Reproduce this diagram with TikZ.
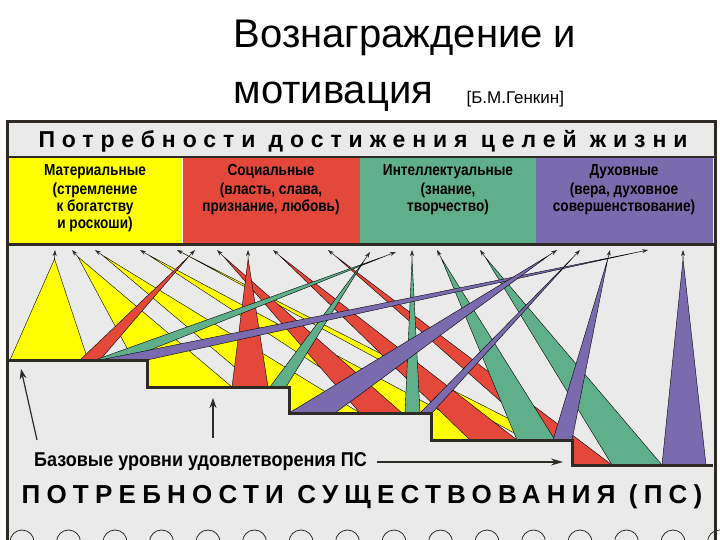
\documentclass[tikz,border=0pt]{standalone}
\usepackage{fontspec}
\setmainfont{Liberation Sans}
\usetikzlibrary{arrows.meta,calc}
\definecolor{bg}{HTML}{EAEAEA}
\definecolor{fr}{HTML}{2E2A26}
\definecolor{yel}{HTML}{FFFF00}
\definecolor{rd}{HTML}{E4483A}
\definecolor{gr}{HTML}{5FAF8A}
\definecolor{pu}{HTML}{7A6BAE}
\tikzset{
 wedgest/.style={draw=black,line width=0.4pt},
 tipst/.style={draw=fr,line width=0.6pt,-{Stealth[length=6pt,width=4pt]}},
 lbl/.style={font=\bfseries\fontsize{16}{17}\selectfont\addfontfeatures{FakeStretch=0.85},align=center,text=black,inner sep=0pt},
}
\newcommand{\wdg}[6]{%
 \fill[#1,wedgest] (#2,#4)--(#3,#4)--($(#5,#6)!9pt!({(#2+#3)/2},#4)$)--cycle;
 \draw[tipst] ($(#5,#6)!9pt!({(#2+#3)/2},#4)$)--(#5,#6);}
\begin{document}
\begin{tikzpicture}[x=1pt,y=-1pt]
\useasboundingbox (0,0) rectangle (720,540);
\fill[white] (0,0) rectangle (720,540);
% title
\node[font=\fontsize{40}{40}\selectfont,anchor=center] (t1) at (405,38) {Вознаграждение и};
\node[font=\fontsize{40}{40}\selectfont,anchor=base west] (t2) at (230,104) {мотивация};
\node[font=\fontsize{17}{17}\selectfont,anchor=base west] (t3) at (463,104) {[Б.М.Генкин]};
% frame
\fill[bg] (7,122) rectangle (715,545);
\node[font=\bfseries\fontsize{23}{23}\selectfont\addfontfeatures{LetterSpace=30},anchor=center] (hd) at (363,141) {Потребности достижения целей жизни};
\fill[yel] (8,158) rectangle (182,243);
\fill[rd] (182,158) rectangle (360,243);
\fill[gr] (360,158) rectangle (536,243);
\fill[pu] (536,158) rectangle (713,243);
\draw[white,line width=1pt] (182,158)--(182,243);
\node[lbl,anchor=north] (b1) at (95,164) {Материальные\\[2pt](стремление\\к богатству\\и роскоши)};
\node[lbl,anchor=north] (b2) at (271,164) {Социальные\\[2pt](власть, слава,\\признание, любовь)};
\node[lbl,anchor=north] (b3) at (448,164) {Интеллектуальные\\[2pt](знание,\\творчество)};
\node[lbl,anchor=north] (b4) at (624,164) {Духовные\\[2pt](вера, духовное\\совершенствование)};
\draw[fr,line width=2.5pt] (7,157)--(715,157);
\draw[fr,line width=3pt] (7,244)--(715,244);
% wedges
\wdg{yel}{10}{88}{360}{55}{250}
\wdg{yel}{148}{232}{387}{72}{250}
\wdg{yel}{289}{360}{413}{95}{250}
\wdg{yel}{431}{495}{440}{140}{250}
\wdg{yel}{573}{600}{465}{177}{250}
\wdg{rd}{80}{100}{360}{195}{250}
\wdg{rd}{360}{402}{413}{217}{250}
\wdg{rd}{470}{517}{440}{273}{250}
\wdg{rd}{573}{612}{465}{328}{250}
\wdg{rd}{232}{268}{387}{248}{250}
\wdg{gr}{95}{125}{360}{396}{252}
\wdg{gr}{270}{286}{387}{370}{252}
\wdg{gr}{405}{420}{413}{412}{250}
\wdg{gr}{517}{555}{440}{437}{250}
\wdg{gr}{612}{662}{465}{480}{250}
\wdg{pu}{100}{147}{360}{648}{250}
\wdg{pu}{289}{335}{413}{557}{250}
\wdg{pu}{420}{432}{413}{580}{250}
\wdg{pu}{553}{572}{440}{610}{250}
\wdg{pu}{662}{706}{465}{683}{250}
% staircase
\fill[bg] (7,360)--(147,360)--(147,387)--(289,387)--(289,413)--(431,413)--(431,440)--(572,440)--(572,465)--(715,465)--(715,545)--(7,545)--cycle;
\draw[fr,line width=3pt] (7,360)--(147,360)--(147,387)--(289,387)--(289,413)--(431,413)--(431,440)--(572,440)--(572,465)--(713,465);
% frame border
\draw[fr,line width=3pt] (7,545)--(7,122)--(715,122)--(715,545);
% labels & arrows
\coordinate (a1s) at (37,440); \coordinate (a1e) at (21,369);
\coordinate (a2s) at (213,438); \coordinate (a2e) at (213,398);
\draw[fr,line width=1.2pt,-{Stealth[length=10pt,width=7pt]}] (a1s)--(a1e);
\draw[fr,line width=1.2pt,-{Stealth[length=10pt,width=7pt]}] (a2s)--(a2e);
\node[font=\bfseries\fontsize{20}{20}\selectfont\addfontfeatures{FakeStretch=0.9},anchor=west,inner sep=0pt] (bl) at (34,462) {Базовые уровни удовлетворения ПС};
\coordinate (a3e) at (563,462);
\draw[fr,line width=1.2pt,-{Stealth[length=12pt,width=7pt]}] (bl.east)++(10,0)--(a3e);
\node[font=\bfseries\fontsize{26}{26}\selectfont\addfontfeatures{LetterSpace=24},anchor=center] (ft) at (362,497) {ПОТРЕБНОСТИ СУЩЕСТВОВАНИЯ (ПС)};
\foreach \i in {0,...,15} \draw[fr,line width=0.8pt] (22+46.5*\i,542) circle (12);
\end{tikzpicture}
\end{document}
